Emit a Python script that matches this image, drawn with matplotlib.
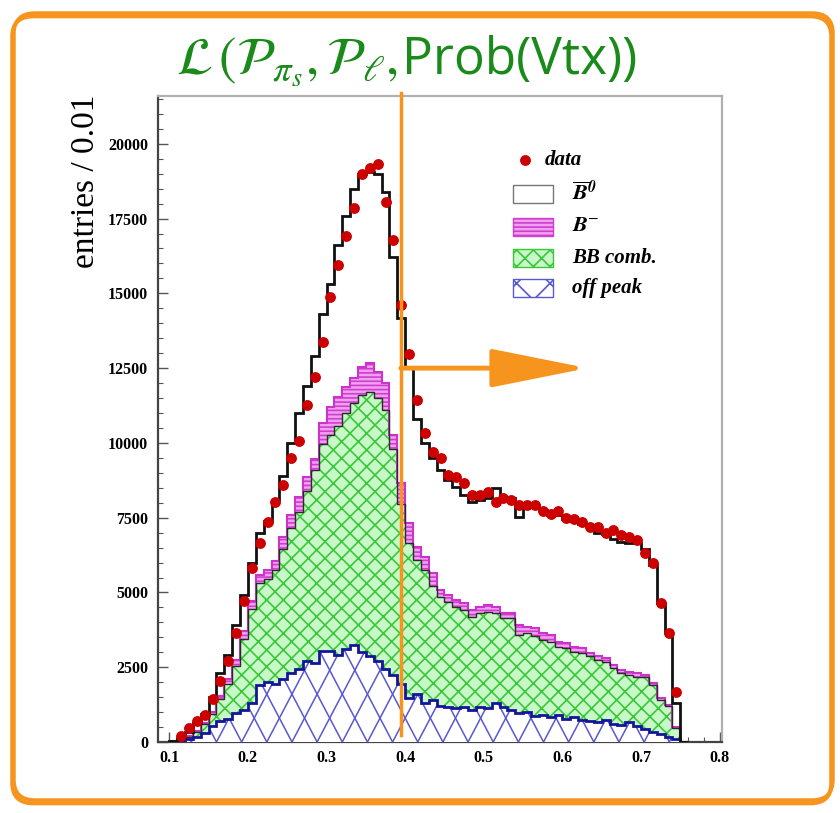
import numpy as np
import matplotlib
matplotlib.use('Agg')
import matplotlib.pyplot as plt
from matplotlib.patches import FancyBboxPatch, PathPatch, Rectangle
from matplotlib.path import Path
from matplotlib.collections import LineCollection
from matplotlib.ticker import MultipleLocator, FixedLocator
from matplotlib.mathtext import MathTextParser

plt.rcParams['font.family'] = ['Liberation Serif', 'DejaVu Serif']
plt.rcParams['mathtext.fontset'] = 'stix'
plt.rcParams['hatch.linewidth'] = 1.2

# ---------------- data (bin width 0.01, left edges 0.10 ... 0.75) ----------------
bin_lo = 0.10
bin_w = 0.01
n_bins = 66

# cumulative stack tops
stack_offpeak = [0, 30, 90, 170, 310, 520, 700, 780, 960, 1080,
                 1300, 1910, 2000, 1950, 2100, 2300, 2430, 2700, 2640, 3040,
                 3040, 2900, 3100, 3250, 3000, 2870, 2700, 2450, 2230, 1950,
                 1480, 1600, 1300, 1390, 1220, 1180, 1130, 1180, 1080, 1180,
                 1130, 1300, 1180, 1080, 960, 1010, 870, 900, 830, 900,
                 780, 830, 730, 700, 660, 730, 610, 560, 660, 520,
                 430, 350, 260, 170, 90, 0]
stack_bbcomb = [20, 80, 180, 350, 600, 950, 1450, 1950, 2550, 3450,
                4450, 5300, 5450, 5750, 6450, 7150, 7700, 8400, 9100, 9950,
                10250, 10550, 11000, 11350, 11600, 11700, 11500, 11100, 9800, 7950,
                6650, 6100, 5750, 5200, 4860, 4690, 4520, 4410, 4190, 4300,
                4360, 4300, 4140, 4140, 3580, 3640, 3530, 3410, 3350, 3190,
                3130, 3020, 2970, 2860, 2750, 2690, 2460, 2300, 2240, 2190,
                2160, 1910, 1410, 1190, 460, 0]
stack_bminus = [20, 80, 190, 370, 640, 1000, 1550, 2100, 2750, 3700,
                4700, 5600, 5750, 6050, 6850, 7600, 8200, 8850, 9450, 10660,
                11210, 11550, 11880, 12160, 12550, 12660, 12380, 12000, 10250, 8650,
                7310, 6530, 6200, 5650, 5080, 4915, 4750, 4640, 4410, 4520,
                4580, 4520, 4300, 4300, 3910, 3855, 3800, 3630, 3580, 3355,
                3300, 3190, 3130, 2970, 2860, 2800, 2575, 2410, 2350, 2300,
                2240, 1960, 1460, 1240, 510, 0]
stack_total = [40, 130, 330, 620, 950, 1500, 2300, 2900, 3900, 4900,
               6000, 7000, 7400, 8100, 8900, 10000, 11000, 11900, 12900, 14300,
               15300, 16600, 17600, 18500, 19000, 19050, 19000, 18400, 16230, 14180,
               12550, 10800, 10000, 9500, 9100, 8760, 8540, 8260, 8040, 8100,
               8150, 8480, 8150, 8150, 7530, 7930, 7930, 7750, 7600, 7600,
               7450, 7400, 7300, 7250, 7000, 6950, 6800, 6700, 6650, 6650,
               6450, 5920, 4640, 3630, 1300, 0]

# data points, bins 0.11 ... 0.74
data_first_bin = 0.11
data_values = [210, 470, 700, 900, 1430, 2050, 2700, 3650, 4700,
               5830, 6640, 7340, 8030, 8600, 9480, 10050, 11270, 12200, 13390,
               14870, 15950, 16920, 17850, 18990, 19190, 19330, 18070, 16790, 14610,
               12980, 11440, 10330, 9710, 9490, 8930, 8870, 8650, 8260, 8260,
               8370, 8040, 8150, 8100, 7930, 7930, 7930, 7710, 7640, 7710,
               7500, 7450, 7370, 7200, 7200, 6980, 7090, 6920, 6870, 6750,
               6320, 6000, 4660, 3655, 1683]

x_ticks = [0.1, 0.2, 0.3, 0.4, 0.5, 0.6, 0.7, 0.8]
cut_value = 0.3945
arrow_level = 12500


def mathtext_ok(s):
    try:
        MathTextParser('agg').parse(s, dpi=100)
        return True
    except Exception:
        return False


lab_b0 = r'$\overline{\mathbfit{B}}^{\mathbfit{0}}$'
lab_bm = r'$\mathbfit{B}^{-}$'
if not mathtext_ok(lab_b0):
    lab_b0 = r'$\overline{B}^{0}$'
    lab_bm = r'$B^{-}$'
legend_labels = ['data', lab_b0, lab_bm, 'BB comb.', 'off peak']

# ---------------- figure ----------------
orange = '#f7941d'
c_mag_face, c_mag_hatch = '#f1a0f1', '#cf3fcf'
c_grn_face, c_grn_hatch = '#c8f7c8', '#3ac83a'
c_blue_hatch = '#5858d0'

fig = plt.figure(figsize=(8.4, 8.13), dpi=100)
ax = fig.add_axes([0.188, 0.0873, 0.6715, 0.7947])
ax.set_xlim(0.0855, 0.803)
ax.set_ylim(0, 21600)

edges = bin_lo + bin_w * np.arange(n_bins + 1)
offp = np.array(stack_offpeak, float)
bbc = np.array(stack_bbcomb, float)
bmi = np.array(stack_bminus, float)
tot = np.array(stack_total, float)

ax.stairs(tot, edges, baseline=0, fill=True, facecolor='white', edgecolor='none', lw=0, zorder=1)
ax.stairs(bmi, edges, baseline=0, fill=True, facecolor=c_mag_face, edgecolor=c_mag_hatch,
          hatch='----', lw=0, zorder=2)
ax.stairs(bbc, edges, baseline=0, fill=True, facecolor=c_grn_face, edgecolor=c_grn_hatch,
          hatch='xx', lw=0, zorder=3)
ax.stairs(offp, edges, baseline=0, fill=True, facecolor='white', edgecolor='none', lw=0, zorder=4)

# steep blue cross-hatch of the off-peak component, clipped to its histogram
xs = np.repeat(edges, 2)[1:-1]
ys = np.repeat(offp, 2)
poly = [(edges[0], 0)] + list(zip(xs, ys)) + [(edges[-1], 0), (edges[0], 0)]
clip = PathPatch(Path(poly), transform=ax.transData, facecolor='none', edgecolor='none')
ax.add_patch(clip)
slope = 50000.0
spacing = 0.032
H = 4000.0
segs = []
for x0 in np.arange(0.0, 0.9, spacing):
    segs.append([(x0, 0), (x0 + H / slope, H)])
    segs.append([(x0, 0), (x0 - H / slope, H)])
lc = LineCollection(segs, colors=c_blue_hatch, linewidths=1.1, zorder=5)
lc.set_clip_path(clip)
ax.add_collection(lc)

ax.stairs(bmi, edges, baseline=0, color='#cc33cc', lw=1.5, zorder=6)
ax.stairs(bbc, edges, baseline=0, color='#2a2a2a', lw=1.0, zorder=6)
ax.stairs(offp, edges, baseline=0, color='#15159a', lw=2.0, zorder=7)
ax.stairs(tot, edges, baseline=0, color='#111111', lw=2.0, zorder=8)

centers = data_first_bin + bin_w * (np.arange(len(data_values)) + 0.5)
ax.plot(centers, data_values, 'o', color='#cc0000', ms=6.8, mec='#cc0000', zorder=9)

# axes styling
for s in ['left', 'bottom']:
    ax.spines[s].set_color('#444444')
    ax.spines[s].set_linewidth(1.6)
for s in ['top', 'right']:
    ax.spines[s].set_color('#b0b0b0')
    ax.spines[s].set_linewidth(1.6)
ax.yaxis.set_major_locator(MultipleLocator(2500))
ax.yaxis.set_minor_locator(MultipleLocator(500))
ax.xaxis.set_major_locator(FixedLocator(x_ticks))
ax.xaxis.set_minor_locator(MultipleLocator(0.02))
ax.tick_params(which='both', direction='in', top=False, right=False, color='#555555')
ax.tick_params(which='major', length=7, width=1.0)
ax.tick_params(which='minor', length=3.5, width=0.8)
ax.tick_params(axis='y', pad=7)
ax.tick_params(axis='x', pad=6)
ax.set_xticklabels([f'{t:.1f}' for t in x_ticks])
for lab in ax.get_xticklabels() + ax.get_yticklabels():
    lab.set_fontweight('bold')
    lab.set_fontsize(11.5)
    lab.set_family(['Liberation Serif', 'DejaVu Serif'])

fig.text(0.102, 0.884, 'entries / 0.01', rotation=90, ha='center', va='top',
         fontsize=24, family=['Liberation Serif', 'DejaVu Serif'])


# ---------------- legend (drawn by hand, ROOT style) ----------------
def fx(px):
    return (px - 158) / 564.0


def fy(py):
    return (742 - py) / 646.0


leg_font = dict(family='Liberation Serif', weight='bold', style='italic', size=15)
row_y = [160, 194, 227, 258, 288]
ax.plot([fx(525)], [fy(row_y[0])], 'o', color='#cc0000', ms=6.8, transform=ax.transAxes,
        clip_on=False, zorder=20)
ax.text(fx(545), fy(row_y[0]), legend_labels[0], transform=ax.transAxes, va='center',
        ha='left', zorder=20, **leg_font)
box_styles = [
    dict(facecolor='white', edgecolor='#777777'),
    dict(facecolor=c_mag_face, edgecolor=c_mag_hatch, hatch='----'),
    dict(facecolor=c_grn_face, edgecolor=c_grn_hatch, hatch='xx'),
    dict(facecolor='white', edgecolor=c_blue_hatch, hatch='\\/'),
]
for yy, st, lab in zip(row_y[1:], box_styles, legend_labels[1:]):
    r = Rectangle((fx(513), fy(yy + 9)), fx(553) - fx(513), fy(yy - 9) - fy(yy + 9),
                  transform=ax.transAxes, lw=1.0, zorder=20, clip_on=False, **st)
    ax.add_patch(r)
    if lab.startswith('$'):
        ax.text(fx(572), fy(yy), lab, transform=ax.transAxes, va='center', ha='left',
                zorder=20, fontsize=16)
    else:
        ax.text(fx(572), fy(yy), lab, transform=ax.transAxes, va='center', ha='left',
                zorder=20, **leg_font)

# cut line and arrow
ax.plot([cut_value, cut_value], [0.011, 1.005], color=orange, lw=2.5,
        transform=ax.get_xaxis_transform(), clip_on=False, zorder=15)
ax.annotate('', xy=(0.632, arrow_level), xytext=(cut_value, arrow_level),
            arrowprops=dict(arrowstyle='-|>,head_length=4.0,head_width=0.8',
                            mutation_scale=15, lw=3.5, color=orange,
                            shrinkA=0, shrinkB=0), zorder=15)

# ---------------- title (script part in math, rest in a sans face) ----------------
title_a = r'$\mathcal{L}\,(\mathcal{P}_{\pi_s},\mathcal{P}_{\ell},$'
title_b = 'Prob(Vtx))'
green = '#1a8a1a'
base_y = 1 - 74 / 813
ta = fig.text(0, base_y, title_a, fontsize=38, color=green, ha='left', va='baseline')
tb = fig.text(0, base_y, title_b, fontsize=37, color=green, ha='left', va='baseline',
              family=['Open Sans', 'DejaVu Sans'])
renderer = fig.canvas.get_renderer()
wa = ta.get_window_extent(renderer).width
wb = tb.get_window_extent(renderer).width
gap = 4
total_w = wa + gap + wb
left_px = 407 - total_w / 2
ta.set_x(left_px / 840)
tb.set_x((left_px + wa + gap) / 840)

# rounded orange frame
shadow = FancyBboxPatch((14 / 840 - 0.002, 13 / 813 - 0.004), (833 - 14) / 840, (800 - 13) / 813,
                        boxstyle='round,pad=0,rounding_size=0.025', transform=fig.transFigure,
                        fill=False, ec=orange, lw=3.0, zorder=0)
frame = FancyBboxPatch((14 / 840, 13 / 813), (833 - 14) / 840, (800 - 13) / 813,
                       boxstyle='round,pad=0,rounding_size=0.025', transform=fig.transFigure,
                       fill=False, ec=orange, lw=2.5, zorder=0)
fig.patches.extend([shadow, frame])

fig.savefig('out.png', dpi=100)
